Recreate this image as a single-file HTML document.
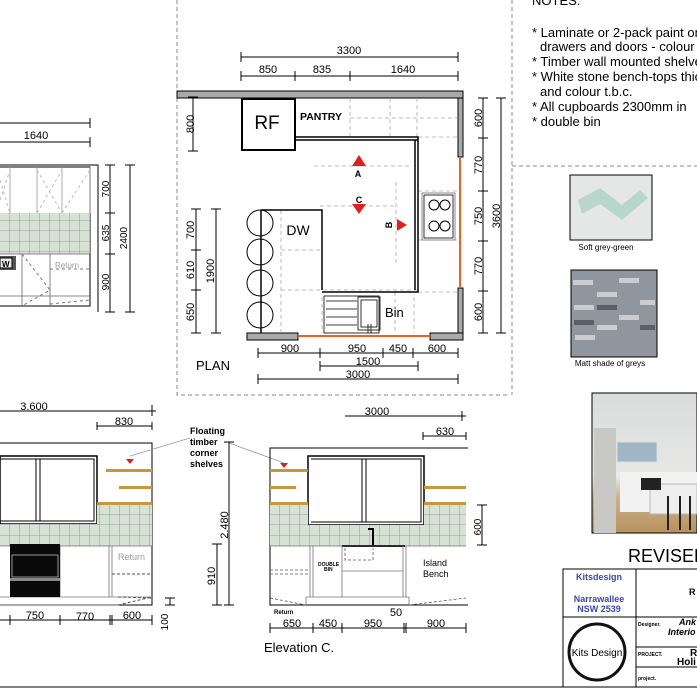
<!DOCTYPE html>
<html><head><meta charset="utf-8"><style>
html,body{margin:0;padding:0;background:#fff;}
svg{display:block;font-family:"Liberation Sans",Arial,sans-serif;}
</style></head><body>
<svg width="697" height="697" viewBox="0 0 697 697" xmlns="http://www.w3.org/2000/svg">
<defs>
<pattern id="tile" width="10" height="10.5" patternUnits="userSpaceOnUse">
<rect width="10" height="10.5" fill="#d6e2d3"/><path d="M10 0V10.5M0 10.5H10" stroke="#8a8a8a" stroke-width="0.8" fill="none"/></pattern>
<linearGradient id="ph" x1="0" y1="0" x2="0" y2="1"><stop offset="0" stop-color="#d9dcdc"/><stop offset="0.6" stop-color="#e8e8e6"/><stop offset="0.75" stop-color="#c9b08a"/><stop offset="1" stop-color="#b8925e"/></linearGradient>
</defs>
<g stroke="#888" stroke-dasharray="4,3" fill="none" stroke-width="1">
<path d="M177 0V395H510"/><path d="M512 0V395"/><path d="M512 166H697"/>
</g>
<g stroke="#000" stroke-width="1" fill="none">
<path d="M241 57H458M241 76H458"/>
<path d="M241 52V62M458 52V62M241 71V81M295 71V81M350 71V81M458 71V81"/>
</g>
<g font-size="11" text-anchor="middle">
<text x="349" y="54">3300</text><text x="268" y="73">850</text><text x="322" y="73">835</text><text x="403" y="73">1640</text>
</g>
<g stroke="#000" stroke-width="1">
<rect x="177" y="91" width="286" height="7" fill="#aaa"/>
<rect x="458" y="98" width="5" height="59" fill="#aaa"/>
<rect x="458" y="288" width="5" height="52" fill="#aaa"/>
<rect x="247" y="333" width="51" height="7" fill="#aaa"/>
<rect x="430" y="333" width="33" height="7" fill="#aaa"/>
</g>
<path d="M460 157V288M298 336H430" stroke="#f06020" stroke-width="2"/>
<rect x="242" y="99" width="53" height="51" fill="none" stroke="#000" stroke-width="2"/>
<text x="267" y="129" font-size="19" text-anchor="middle">RF</text>
<text x="300" y="120" font-size="10.5" font-weight="bold">PANTRY</text>
<g stroke="#aaa" stroke-dasharray="4,3" fill="none" stroke-width="0.8">
<path d="M350 98V138M390 98V138M417 98V138M350 118H458"/>
<path d="M418 137H458M418 191H458M418 240H458M418 292H458"/>
<path d="M314 166H410M320 206H398M396 182V266"/>
<path d="M281 210V333M281 250H322M281 290H418M322 297V333M414 297V333M395 292V333"/>
</g>
<g stroke="#000" stroke-width="1.5" fill="none">
<path d="M296 137H418V292H322M296 140H418"/>
<path d="M415 140V290"/>
<path d="M261 210H322V290"/>
<path d="M261 210V333"/>
</g>
<rect x="422" y="193" width="33" height="47" fill="none" stroke="#888" stroke-width="1"/>
<rect x="424" y="195" width="29" height="43" fill="none" stroke="#000" stroke-width="0.8"/>
<g fill="none" stroke="#000" stroke-width="1"><circle cx="434" cy="205" r="5"/><circle cx="445" cy="205" r="5"/><circle cx="434" cy="226" r="5"/><circle cx="445" cy="226" r="5"/>
<circle cx="260" cy="223" r="13"/><circle cx="260" cy="252" r="13"/><circle cx="260" cy="283" r="13"/><circle cx="260" cy="315" r="13"/></g>
<text x="298" y="235" font-size="14" text-anchor="middle">DW</text>
<g stroke="#000" stroke-width="0.8" fill="none">
<rect x="324" y="296" width="55" height="37"/>
<path d="M326 301H357M326 309H357M326 317H357M326 325H357"/>
<rect x="358" y="297" width="22" height="33"/><rect x="361" y="300" width="16" height="27"/><path d="M368 324V333M371 324V333"/>
</g>
<text x="385" y="317" font-size="13">Bin</text>
<path d="M352 166L359 155L366 166Z M352 204L359 214L366 204Z M397 219L407 225L397 231Z" fill="#e02020"/>
<g font-size="9" font-weight="bold" text-anchor="middle"><text x="358" y="177">A</text><text x="359" y="203">C</text>
<text transform="translate(392,225) rotate(-90)">B</text></g>
<g stroke="#000" stroke-width="1" fill="none">
<path d="M193 97V151M188 97H198M188 151H198"/>
<path d="M196 209V333M191 209H201M191 250H201M191 290H201M191 333H201"/>
<path d="M216 209V333M211 209H221M211 333H221"/>
<path d="M483 98V333M478 98H488M478 138H488M478 191H488M478 241H488M478 291H488M478 333H488"/>
<path d="M501 98V333M496 98H506M496 333H506"/>
<path d="M258 353H458M258 348V358M320 348V358M383 348V358M413 348V358M458 348V358"/>
<path d="M320 366H418M320 361V371M418 361V371"/>
<path d="M258 379H458M258 374V384M458 374V384"/>
</g>
<g font-size="11" text-anchor="middle">
<text transform="translate(194,124) rotate(-90)">800</text>
<text transform="translate(194,230) rotate(-90)">700</text>
<text transform="translate(194,270) rotate(-90)">610</text>
<text transform="translate(194,312) rotate(-90)">650</text>
<text transform="translate(214,271) rotate(-90)">1900</text>
<text transform="translate(482,118) rotate(-90)">600</text>
<text transform="translate(482,165) rotate(-90)">770</text>
<text transform="translate(482,216) rotate(-90)">750</text>
<text transform="translate(482,266) rotate(-90)">770</text>
<text transform="translate(482,312) rotate(-90)">600</text>
<text transform="translate(500,216) rotate(-90)">3600</text>
<text x="290" y="352">900</text><text x="357" y="352">950</text><text x="398" y="352">450</text><text x="437" y="352">600</text>
<text x="368" y="365">1500</text><text x="358" y="378">3000</text>
</g>
<text x="196" y="370" font-size="13">PLAN</text>
<g stroke="#000" stroke-width="1" fill="none">
<path d="M0 123H90M0 142H90M90 118V128M90 137V147"/>
<path d="M0 165H98V312M0 167H90V306H0"/>
</g>
<text x="36" y="139" font-size="11" text-anchor="middle">1640</text>
<rect x="0" y="213" width="90" height="41" fill="url(#tile)"/>
<g stroke="#999" stroke-width="0.8" fill="none"><path d="M10 167V213M37 167V213M62 167V213M90 167V213"/>
<path d="M0 254H90M22 254V306M50 254V306M0 296H90" stroke="#666"/></g>
<g stroke="#bbb" stroke-dasharray="3,3" fill="none"><path d="M0 180L10 213M37 170L62 213M37 213L62 170M62 213L90 170M0 200L10 170"/>
<path d="M50 269H90M50 304L90 300M22 254L50 290L22 306" stroke="#777"/></g>
<rect x="0" y="256" width="16" height="14" fill="#555"/><rect x="0" y="258" width="12" height="10" fill="#eee" stroke="#000"/>
<text x="2" y="267" font-size="8" font-weight="bold">W</text>
<text x="55" y="268" font-size="8" fill="#999">Return</text>
<g stroke="#000" stroke-width="1" fill="none"><path d="M110 165V312M105 165H115M105 213H115M105 254H115M105 312H115M130 165V312M125 165H135M125 312H135"/></g>
<g font-size="10" text-anchor="middle">
<text transform="translate(109,189) rotate(-90)">700</text><text transform="translate(109,233) rotate(-90)">635</text>
<text transform="translate(109,282) rotate(-90)">900</text><text transform="translate(127,238) rotate(-90)">2400</text></g>
<g stroke="#000" stroke-width="1" fill="none">
<path d="M0 411H156M152 405V416M97 426H152M97 422V430M152 422V430"/>
<path d="M0 443H152V605H0"/>
<rect x="0" y="456" width="97" height="68" stroke-width="1.5"/>
<path d="M0 459H94V521H0M36 459V521M40 459V521"/>
</g>
<text x="34" y="410" font-size="11" text-anchor="middle">3.600</text>
<text x="124" y="425" font-size="11" text-anchor="middle">830</text>
<rect x="0" y="524" width="97" height="22" fill="url(#tile)"/>
<rect x="97" y="503" width="55" height="43" fill="url(#tile)"/>
<g fill="#c8963c"><rect x="106" y="469" width="46" height="3"/><rect x="119" y="486" width="33" height="3"/><rect x="97" y="502" width="55" height="3"/></g>
<g stroke="#777" stroke-width="0.8" fill="none"><path d="M0 546H152M60 546V597M109 546V597M112 546V597M0 597H152M0 605H118"/></g>
<path d="M112 574H152M118 597L152 598M118 605L152 597" stroke="#555" stroke-dasharray="3,2" fill="none"/>
<rect x="10" y="544" width="50" height="53" fill="#0a0a0a"/><rect x="12" y="555" width="46" height="22" fill="none" stroke="#bbb" stroke-width="0.8"/><rect x="10" y="578" width="50" height="3" fill="#888"/>
<text x="118" y="560" font-size="9" fill="#999">Return</text>
<g stroke="#000" stroke-width="1" fill="none"><path d="M0 620H152M10 615V625M60 615V625M110 615V625M112 615V625M152 615V625M170 598V605M165 598H175M165 605H175"/></g>
<g font-size="11" text-anchor="middle"><text x="35" y="619">750</text><text x="85" y="620">770</text><text x="132" y="619">600</text>
<text transform="translate(168,622) rotate(-90)" font-size="10">100</text></g>
<g font-size="9" font-weight="bold"><text x="190" y="434">Floating</text><text x="190" y="445">timber</text><text x="190" y="456">corner</text><text x="190" y="467">shelves</text></g>
<path d="M190 438L130 456M229 443L284 463" stroke="#999" stroke-width="0.8" fill="none"/>
<path d="M126 459H134L130 464Z M280 463H288L284 468Z" fill="#e02020"/>
<g stroke="#000" stroke-width="1" fill="none">
<path d="M345 416H466M462 411V421M423 436H466M423 432V440M466 432V440"/>
<path d="M468 448H270V605H468"/>
<rect x="308" y="456" width="116" height="69" stroke-width="1.5"/>
<path d="M311 459H421V522H311M362 459V522M366 459V522"/>
<path d="M229 442V605M224 442H234M224 605H234M217 544V605M212 544H222M212 605H222"/>
<path d="M482 505V545M477 505H487M477 545H487"/>
<path d="M270 628H466M270 623V633M313 623V633M342 623V633M404 623V633M406 623V633M466 623V633"/>
</g>
<text x="377" y="415" font-size="11" text-anchor="middle">3000</text>
<text x="445" y="435" font-size="11" text-anchor="middle">630</text>
<rect x="270" y="503" width="38" height="43" fill="url(#tile)"/>
<rect x="308" y="525" width="116" height="21" fill="url(#tile)"/>
<rect x="424" y="503" width="42" height="43" fill="url(#tile)"/>
<g fill="#c8963c"><rect x="270" y="469" width="38" height="3"/><rect x="270" y="486" width="26" height="3"/><rect x="270" y="502" width="38" height="3"/><rect x="424" y="486" width="42" height="3"/><rect x="424" y="502" width="42" height="3"/></g>
<path d="M368 529H373V546M342 546H405" stroke="#000" stroke-width="2" fill="none"/>
<g stroke="#777" stroke-width="0.8" fill="none"><path d="M270 546H466M310 546V597M313 546V597M342 546V597M403 546V597M406 546V597M342 571H403M306 597H409V605M306 597V605"/></g>
<g stroke="#555" stroke-dasharray="3,2" fill="none" stroke-width="0.8"><path d="M270 570H309M270 574H309M345 548V560H373V548M270 598L306 605M409 605L466 598"/></g>
<text x="318" y="566" font-size="5" font-weight="bold">DOUBLE</text><text x="324" y="571" font-size="5" font-weight="bold">BIN</text>
<text x="423" y="566" font-size="9">Island</text><text x="423" y="577" font-size="9">Bench</text>
<text x="274" y="614" font-size="6" font-weight="bold">Return</text>
<g font-size="11" text-anchor="middle">
<text transform="translate(228,525) rotate(-90)">2.480</text><text transform="translate(215,576) rotate(-90)">910</text>
<text transform="translate(481,527) rotate(-90)" font-size="10">600</text>
<text x="292" y="627">650</text><text x="328" y="627">450</text><text x="373" y="627">950</text><text x="436" y="627">900</text><text x="396" y="616">50</text></g>
<text x="264" y="652" font-size="13">Elevation C.</text>
<path d="M0 687H697" stroke="#000" stroke-width="1"/>
<g font-size="13"><text x="532" y="5">NOTES.</text>
<text x="532" y="37">* Laminate or 2-pack paint on</text><text x="540" y="51">drawers and doors - colour</text>
<text x="532" y="66">* Timber wall mounted shelves</text><text x="532" y="81">* White stone bench-tops thick</text>
<text x="540" y="96">and colour t.b.c.</text><text x="532" y="111">* All cupboards 2300mm in</text><text x="532" y="126">* double bin</text></g>
<rect x="570" y="175" width="82" height="65" fill="#e5e7e6" stroke="#000"/>
<path d="M578 200L600 188L622 205L640 190L648 198L622 220L600 204L582 214Z" fill="#b9d6cc"/>
<text x="606" y="250" font-size="8" text-anchor="middle">Soft grey-green</text>
<rect x="571" y="270" width="86" height="87" fill="#8f969d" stroke="#000"/>
<g fill="#c9ccd0"><rect x="573" y="280" width="20" height="5"/><rect x="597" y="292" width="20" height="5"/><rect x="619" y="278" width="20" height="5"/><rect x="574" y="305" width="20" height="5"/><rect x="619" y="315" width="20" height="5"/><rect x="597" y="325" width="20" height="5"/><rect x="575" y="335" width="20" height="5"/><rect x="640" y="300" width="15" height="5"/></g>
<g fill="#5a6068"><rect x="597" y="305" width="20" height="5"/><rect x="640" y="325" width="15" height="5"/><rect x="574" y="320" width="20" height="5"/></g>
<text x="610" y="366" font-size="8" text-anchor="middle">Matt shade of greys</text>
<rect x="592" y="393" width="105" height="140" fill="url(#ph)" stroke="#000"/>
<rect x="594" y="428" width="22" height="105" fill="#c8c8c4"/>
<rect x="617" y="442" width="40" height="20" fill="#9fb6c4" stroke="#ddd"/>
<rect x="620" y="472" width="77" height="40" fill="#f2f2f2"/><rect x="650" y="484" width="47" height="30" fill="#eeeeee" stroke="#bbb"/>
<rect x="641" y="478" width="20" height="12" fill="#222"/>
<path d="M668 496V530M680 496V530M690 496V530" stroke="#222" stroke-width="2"/>
<text x="628" y="562" font-size="18">REVISED</text>
<g stroke="#000" stroke-width="1" fill="none"><path d="M563 687V569H697M636 569V687M563 617H697M636 647H697M636 667H697"/></g>
<g fill="#3b48a8" font-size="9" font-weight="bold" text-anchor="middle"><text x="599" y="580">Kitsdesign</text><text x="599" y="602">Narrawallee</text><text x="599" y="612">NSW 2539</text></g>
<circle cx="597" cy="652" r="28" fill="none" stroke="#111" stroke-width="3"/>
<text x="597" y="656" font-size="10" text-anchor="middle">Kits Design</text>
<g font-size="5" font-weight="bold"><text x="638" y="626">Designer.</text><text x="638" y="656">PROJECT.</text><text x="638" y="680">project.</text></g>
<text x="689" y="595" font-size="9" font-weight="bold">R</text>
<text x="679" y="625" font-size="9" font-style="italic" font-weight="bold">Ank</text><text x="668" y="635" font-size="9" font-style="italic" font-weight="bold">Interio</text>
<text x="690" y="656" font-size="10" font-weight="bold">R</text><text x="677" y="665" font-size="10" font-weight="bold">Holi</text>
</svg>
</body></html>
